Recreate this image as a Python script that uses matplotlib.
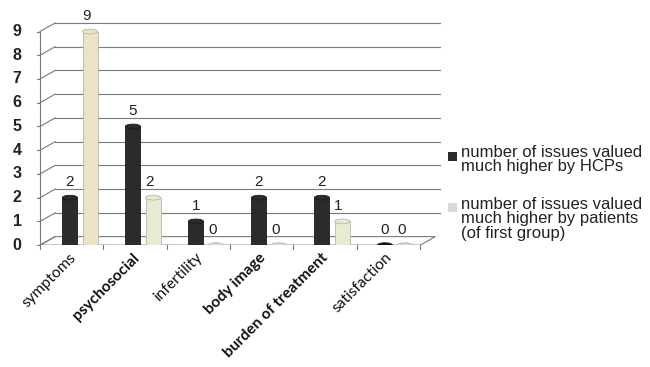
import matplotlib
matplotlib.use("Agg")
import matplotlib.pyplot as plt
from matplotlib.patches import Ellipse, Polygon, Rectangle

categories = ["symptoms", "psychosocial", "infertility", "body image",
              "burden of treatment", "satisfaction"]
bold_labels = [False, True, False, True, True, False]
hcp_values = [2, 5, 1, 2, 2, 0]
patient_values = [9, 2, 0, 0, 1, 0]
y_ticks = list(range(0, 10))
legend_labels = ["number of issues valued\nmuch higher by HCPs",
                 "number of issues valued\nmuch higher by patients\n(of first group)"]

dark = "#2b2b2b"
light_cols = ["#ece2c6", "#e6ebd2", "#e6ebd2", "#e6ebd2", "#e6ebd2", "#e6ebd2"]
grid_col = "#7a7a7a"

fig = plt.figure(figsize=(6.5, 3.67), dpi=100)
ax = fig.add_axes([0.0615, 0.332, 0.615, 0.608])
xmin, xmax = -0.635, 5.71
ymax = 9.4
ax.set_xlim(xmin, xmax)
ax.set_ylim(0, ymax)
ax.axis("off")

dx, dy = 0.24, 0.36
floor_right = 5.4

for v in y_ticks:
    ax.plot([xmin, xmin + dx], [v, v + dy], color=grid_col, lw=0.8, clip_on=False)
    if v > 0:
        ax.plot([xmin + dx, xmax], [v + dy, v + dy], color=grid_col, lw=0.8, clip_on=False)
    ax.plot([xmin - 0.05, xmin], [v, v], color=grid_col, lw=0.8, clip_on=False)
    ax.text(xmin - 0.36, v, str(v), ha="center", va="center", fontsize=11.5,
            fontweight="bold", family="Liberation Sans", color="#222222")
ax.plot([xmin, xmin], [0, 9], color=grid_col, lw=0.8, clip_on=False)

floor = Polygon([[xmin, 0], [floor_right, 0], [floor_right + dx, dy], [xmin + dx, dy]],
                closed=True, facecolor="white", edgecolor=grid_col, lw=0.8, zorder=1)
ax.add_patch(floor)
for i in range(len(categories) + 1):
    xb = xmin + i * (floor_right - xmin) / len(categories)
    ax.plot([xb, xb], [0, -0.15], color=grid_col, lw=0.8, clip_on=False)

x = list(range(len(categories)))
off = 0.16
w = 0.24
xd = [i - off for i in x]
xl = [i + off for i in x]

ax.bar(xd, hcp_values, width=w, color=dark, edgecolor="#1a1a1a", lw=0.6, zorder=3)
ax.bar(xl, patient_values, width=w, color=light_cols, edgecolor="#b8b8a8", lw=0.6, zorder=3)

for xs, vals, cols, ec in [(xd, hcp_values, [dark] * 6, "#1a1a1a"),
                           (xl, patient_values, light_cols, "#b8b8a8")]:
    for xi, v, c in zip(xs, vals, cols):
        cap_col = c if v > 0 else ("#111111" if c == dark else "#d8d8d8")
        ax.add_patch(Ellipse((xi, v), w, 0.2, facecolor=cap_col, edgecolor=ec,
                             lw=0.6, zorder=4))

for xi, v in zip(xd, hcp_values):
    ax.text(xi, v + 0.35, str(v), ha="center", va="bottom", fontsize=11,
            family="Liberation Sans", color="#222222")
for xi, v in zip(xl, patient_values):
    ax.text(xi - 0.06, v + 0.35, str(v), ha="center", va="bottom", fontsize=11,
            family="Liberation Sans", color="#222222")

for i, (c, b) in enumerate(zip(categories, bold_labels)):
    ax.text(i - 0.17, -0.22, c, rotation=45, ha="right", va="top", fontsize=11.2,
            fontweight="bold" if b else "normal", family="Lato",
            rotation_mode="anchor", color="#111111")

fig.patches.append(Rectangle((448 / 650, 1 - 161 / 367), 9 / 650, 9 / 367,
                   transform=fig.transFigure, facecolor=dark, edgecolor="none"))
fig.patches.append(Rectangle((448 / 650, 1 - 212 / 367), 9 / 650, 9 / 367,
                   transform=fig.transFigure, facecolor="#d9d9d4", edgecolor="none"))
fig.text(461 / 650, 1 - 145 / 367, legend_labels[0], ha="left", va="top", fontsize=12,
         family="Liberation Sans", color="#222222", linespacing=0.95)
fig.text(461 / 650, 1 - 197 / 367, legend_labels[1], ha="left", va="top", fontsize=12,
         family="Liberation Sans", color="#222222", linespacing=0.95)

fig.savefig("out.png", dpi=100)
